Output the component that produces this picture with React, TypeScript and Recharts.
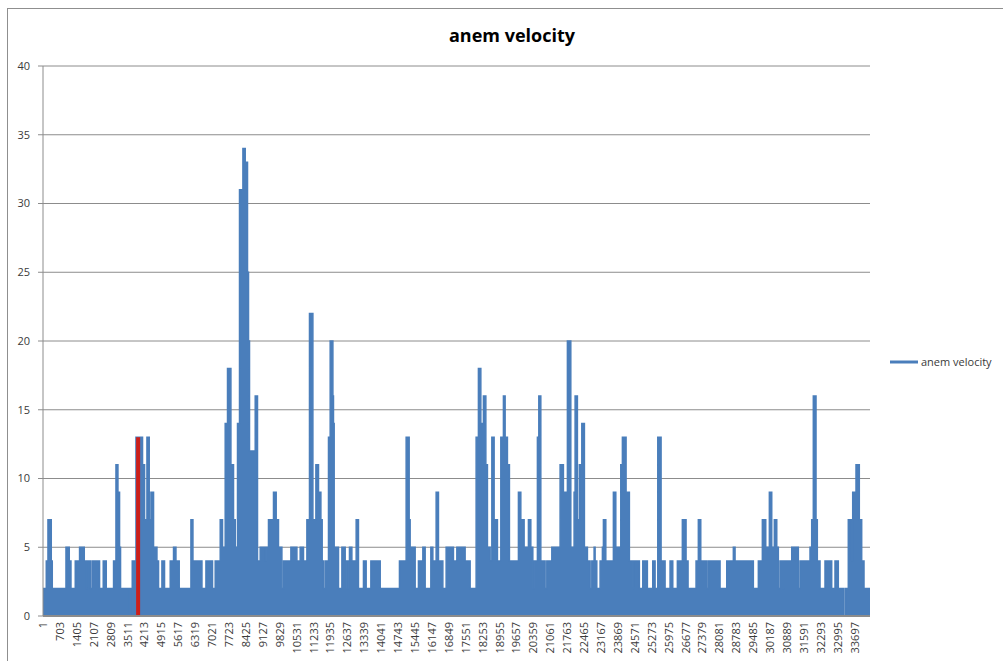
import React from 'react';
import { AreaChart, Area, XAxis, YAxis, CartesianGrid, ReferenceLine, Legend } from 'recharts';

// sample index (category number) where the reading changes, and the reading from that sample on
const sampleIndex = [
  1, 137, 207, 344, 386, 955, 1091, 1162, 1340, 1519, 1714, 1797, 1826, 1963, 2034, 2349, 2502, 2627,
  2930, 3030, 3112, 3179, 3220, 3594, 3650, 3706, 3860, 4133, 4217, 4316, 4411, 4482, 4590, 4731, 4797,
  4938, 5046, 5283, 5420, 5520, 5656, 6142, 6225, 6599, 6765, 7038, 7150, 7358, 7453, 7565, 7661, 7802,
  7910, 7981, 8076, 8159, 8300, 8396, 8491, 8533, 8574, 8811, 8906, 9018, 9226, 9267, 9362, 9570, 9682,
  9777, 9918, 9985, 10292, 10541, 10678, 10815, 10956, 11064, 11205, 11330, 11438, 11537, 11591, 11645,
  11716, 11853, 11923, 12035, 12060, 12089, 12268, 12409, 12546, 12616, 12670, 12724, 12823, 13002, 13097,
  13305, 13417, 13612, 14000, 14799, 15077, 15202, 15243, 15451, 15587, 15770, 15866, 16102, 16185, 16322,
  16418, 16600, 16737, 17040, 17181, 17525, 17733, 17982, 18077, 18177, 18285, 18385, 18451, 18563, 18634,
  18729, 18866, 19007, 19115, 19186, 19281, 19364, 19738, 19837, 19974, 20153, 20252, 20335, 20389, 20526,
  20584, 20667, 20846, 20916, 21124, 21468, 21605, 21771, 21912, 22049, 22091, 22186, 22269, 22369, 22477,
  22602, 22714, 22784, 22880, 22921, 22991, 23128, 23224, 23266, 23365, 23680, 23780, 23987, 24054, 24207,
  24344, 24485, 24510, 24759, 24900, 25091, 25315, 25411, 25523, 25660, 25826, 26033, 26145, 26336, 26543,
  26697, 26780, 27112, 27207, 27307, 27556, 27622, 28108, 28386, 28660, 28731, 29490, 29698, 29864, 30005,
  30155, 30254, 30362, 30462, 30528, 30598, 30710, 30764, 31084, 31221, 31262, 31358, 31428, 31843, 31913,
  31980, 32092, 32146, 32258, 32465, 32743, 32880, 33017, 33254, 33324, 33432, 33573, 33615, 33752, 33889,
  33988, 34084, 34333,
];

const anemVelocity = [
  2, 4, 7, 4, 2, 5, 4, 2, 4, 5, 4, 2, 4, 2, 4, 2, 4, 2,
  4, 11, 9, 5, 2, 0, 2, 4, 13, 11, 7, 13, 7, 9, 5, 4, 2,
  4, 2, 4, 5, 4, 2, 7, 4, 2, 4, 2, 4, 7, 5, 14, 18, 11,
  7, 5, 14, 31, 34, 33, 25, 20, 12, 16, 4, 5, 4, 5, 7, 9, 7,
  5, 2, 4, 5, 4, 5, 4, 7, 22, 7, 11, 9, 7, 4, 2,
  4, 13, 20, 16, 14, 5, 2, 5, 4, 2, 4, 5, 4, 7, 2,
  4, 2, 4, 2, 4, 13, 7, 5, 2, 4, 5, 2, 5, 4, 9,
  4, 2, 5, 4, 5, 4, 2, 13, 18, 14, 16, 11, 5, 4, 13,
  7, 4, 13, 16, 13, 11, 4, 9, 7, 5, 7, 5, 2, 4, 13,
  16, 4, 2, 4, 5, 11, 9, 20, 5, 9, 16, 7, 11, 14, 5,
  4, 2, 4, 5, 4, 2, 4, 5, 7, 4, 9, 5, 11, 13, 9,
  4, 2, 4, 2, 4, 2, 4, 2, 13, 4, 2, 4, 2, 4, 7,
  4, 2, 4, 7, 4, 2, 4, 2, 4, 5, 4, 2, 4, 7, 5,
  9, 5, 7, 5, 2, 4, 2, 4, 5, 4, 5, 2, 4, 5, 7,
  16, 7, 4, 2, 4, 2, 4, 2, 0, 2, 7, 4, 9, 11, 7,
  4, 2, 2,
];

const categoryTicks = [
  1, 703, 1405, 2107, 2809, 3511, 4213, 4915, 5617, 6319, 7021, 7723, 8425, 9127, 9829, 10531, 11233,
  11935, 12637, 13339, 14041, 14743, 15445, 16147, 16849, 17551, 18253, 18955, 19657, 20359, 21061,
  21763, 22465, 23167, 23869, 24571, 25273, 25975, 26677, 27379, 28081, 28783, 29485, 30187, 30889,
  31591, 32293, 32995, 33697,
];
const valueTicks = [0, 5, 10, 15, 20, 25, 30, 35, 40];
const lastSample = 34333;
const markerSample = 3950;
const markerValue = 13;
const seriesName = 'anem velocity';
const chartTitle = 'anem velocity';

const data = sampleIndex.map((idx, k) => ({ idx, v: anemVelocity[k] }));

const FONT = '"Open Sans", "Noto Sans", sans-serif';
const BLUE = '#4A7EBB';
const GRID = '#8C8C8C';

const XTick = (props: any) => {
  const { x, y, payload } = props;
  return (
    <text
      x={x}
      y={y}
      transform={`rotate(-90, ${x}, ${y})`}
      textAnchor="end"
      dy={4}
      fontSize={11}
      fontFamily={FONT}
      fill="#3a3a3a"
    >
      {payload.value}
    </text>
  );
};

const LegendContent = () => (
  <div style={{ display: 'flex', alignItems: 'center', fontFamily: FONT, fontSize: 11, color: '#3a3a3a', whiteSpace: 'nowrap' }}>
    <svg width={30} height={6} style={{ display: 'block' }}>
      <line x1={1} y1={3} x2={29} y2={3} stroke={BLUE} strokeWidth={3} />
    </svg>
    <span style={{ marginLeft: 2 }}>{seriesName}</span>
  </div>
);

export default function App() {
  return (
    <div style={{ position: 'fixed', left: 0, top: 0, width: 1003, height: 661, overflow: 'hidden', background: '#fff' }}>
      <div
        style={{
          position: 'absolute',
          left: 7,
          top: 8,
          width: 1010,
          height: 700,
          border: '1px solid #8f8f8f',
          boxSizing: 'border-box',
        }}
      />
      <svg width={1003} height={661} style={{ position: 'absolute', left: 0, top: 0 }}>
        <text x={512} y={42} textAnchor="middle" fontFamily={FONT} fontWeight={700} fontSize={18} fill="#000">
          {chartTitle}
        </text>
      </svg>
      <div style={{ position: 'absolute', left: 0, top: 0 }}>
        <AreaChart width={1003} height={661} data={data} margin={{ top: 66, right: 133, bottom: 0, left: 0 }}>
          <CartesianGrid vertical={false} stroke={GRID} strokeWidth={1} />
          <XAxis
            dataKey="idx"
            type="number"
            domain={[1, lastSample]}
            ticks={categoryTicks}
            interval={0}
            height={45}
            tickLine={false}
            tickSize={0}
            tickMargin={6}
            axisLine={{ stroke: GRID, strokeWidth: 2 }}
            tick={<XTick />}
            allowDataOverflow
          />
          <YAxis
            type="number"
            domain={[0, 40]}
            ticks={valueTicks}
            interval={0}
            width={43}
            tickSize={5}
            tickMargin={8}
            axisLine={{ stroke: GRID }}
            tickLine={{ stroke: GRID }}
            tick={{ fontSize: 11, fontFamily: FONT, fill: '#3a3a3a' }}
          />
          <Area
            type="stepAfter"
            dataKey="v"
            name={seriesName}
            stroke={BLUE}
            strokeWidth={1.5}
            fill={BLUE}
            fillOpacity={1}
            baseValue={0}
            isAnimationActive={false}
            dot={false}
            activeDot={false}
          />
          <ReferenceLine
            segment={[
              { x: markerSample, y: 0 },
              { x: markerSample, y: markerValue },
            ]}
            stroke="#CC1F1A"
            strokeWidth={4}
          />
          <Legend
            layout="vertical"
            align="center"
            verticalAlign="middle"
            content={<LegendContent />}
            wrapperStyle={{ left: 889, top: 354, width: 114 }}
          />
        </AreaChart>
      </div>
    </div>
  );
}
